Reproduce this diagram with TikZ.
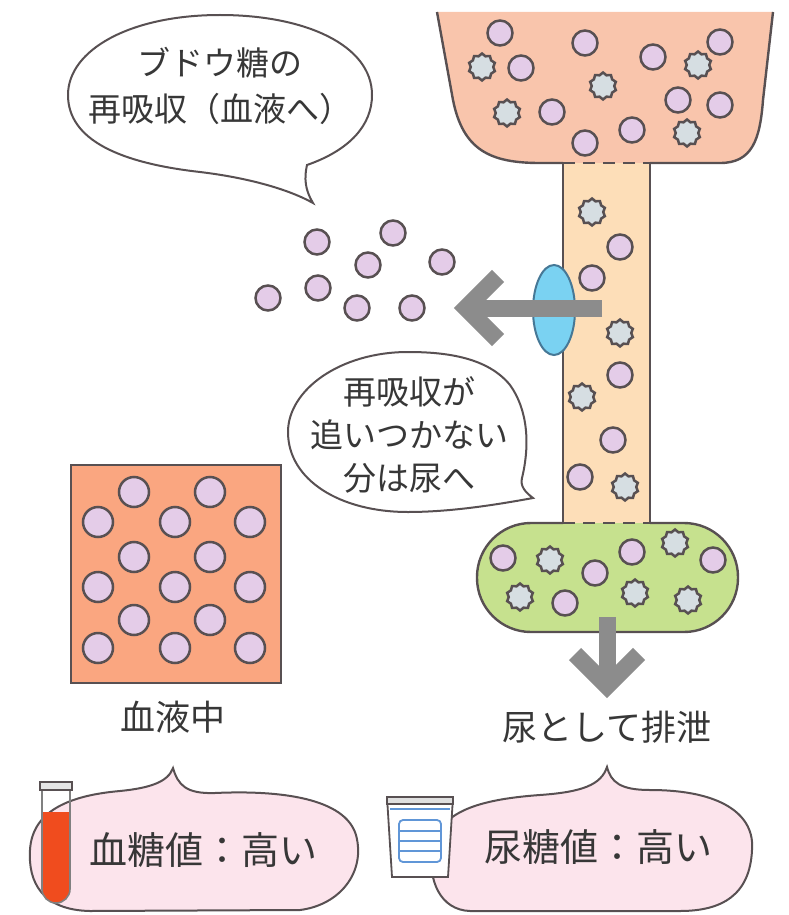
\documentclass[tikz,border=0pt]{standalone}
\usepackage{fontspec}
\setmainfont{Noto Sans CJK JP}
\usetikzlibrary{positioning, shapes.geometric, arrows.meta}
\definecolor{DuctPeach}{RGB}{249,197,172}
\definecolor{TubePeach}{RGB}{253,222,184}
\definecolor{UrineGreen}{RGB}{198,225,142}
\definecolor{BloodCoral}{RGB}{250,166,128}
\definecolor{GlucLilac}{RGB}{228,204,232}
\definecolor{OtherGray}{RGB}{214,222,226}
\definecolor{LineGray}{RGB}{88,80,82}
\definecolor{ArrowGray}{RGB}{140,140,140}
\definecolor{PumpBlue}{RGB}{122,210,242}
\definecolor{PumpEdge}{RGB}{70,120,150}
\definecolor{BubblePink}{RGB}{252,228,236}
\definecolor{TubeRed}{RGB}{240,76,30}
\definecolor{CupBlue}{RGB}{96,150,215}
\definecolor{TextGray}{RGB}{55,55,55}

\begin{document}
\begin{tikzpicture}[x=0.5pt, y=-0.5pt, every node/.style={text=TextGray},
  gluc/.style={circle, draw=LineGray, fill=GlucLilac, line width=1.25pt, minimum size=12.5pt, inner sep=0pt},
  bigdot/.style={gluc, minimum size=15pt},
  other/.style={star, star points=10, star point ratio=1.2, draw=LineGray, fill=OtherGray, line width=1.25pt, minimum size=13.5pt, inner sep=0pt},
  wall/.style={draw=LineGray, line width=1.2pt},
  bubble/.style={draw=LineGray, line width=1pt, fill=white},
  pinkbubble/.style={draw=LineGray, line width=1pt, fill=BubblePink},
  bigarrow/.style={draw=ArrowGray, line width=8.5pt, line join=miter},
  saying/.style={align=center, font=\fontsize{16.5}{23}\selectfont},
  caption/.style={font=\fontsize{17.5}{20}\selectfont},
  readout/.style={font=\fontsize{19}{22}\selectfont}
]
\useasboundingbox (0,0) rectangle (788,915);

% Funnel at the top
\fill[DuctPeach] (437,12) -- (453,100) .. controls (463,150) and (490,163) .. (540,163) -- (720,163) .. controls (752,163) and (760,140) .. (763,100) -- (773,12) -- cycle;
\draw[wall] (437,12) -- (453,100) .. controls (463,150) and (490,163) .. (540,163) -- (563,163);
\draw[wall] (650,163) -- (720,163) .. controls (752,163) and (760,140) .. (763,100) -- (773,12);

% Tube
\fill[TubePeach] (563,163) rectangle (650,523);
\draw[wall] (563,163) -- (563,523);
\draw[wall] (650,163) -- (650,523);
\draw[wall, dash pattern=on 6pt off 4pt] (563,163) -- (650,163);

% Green capsule
\fill[UrineGreen, rounded corners=27pt] (477,523) rectangle (738,632);
\draw[wall, rounded corners=27pt] (563,523) -- (477,523) -- (477,632) -- (738,632) -- (738,523) -- (650,523);
\draw[wall, dash pattern=on 6pt off 4pt] (563,523) -- (650,523);

% Particles
\foreach \x/\y [count=\i] in {500/33, 585/43, 653/57, 720/42, 521/68, 552/112, 678/100, 720/105, 632/130, 585/143}
  \node[gluc] (fg\i) at (\x,\y) {};
\foreach \x/\y [count=\i] in {482/67, 603/86, 698/65, 507/113, 687/133}
  \node[other] (fo\i) at (\x,\y) {};
\foreach \x/\y [count=\i] in {620/247, 592/278, 620/375, 613/440, 580/477}
  \node[gluc] (tg\i) at (\x,\y) {};
\foreach \x/\y [count=\i] in {592/212, 620/333, 582/397, 625/487}
  \node[other] (to\i) at (\x,\y) {};
\foreach \x/\y [count=\i] in {503/558, 595/573, 632/552, 713/560, 565/603}
  \node[gluc] (cg\i) at (\x,\y) {};
\foreach \x/\y [count=\i] in {550/560, 675/543, 520/597, 635/593, 688/600}
  \node[other] (co\i) at (\x,\y) {};
\foreach \x/\y [count=\i] in {317/242, 393/233, 368/265, 442/262, 268/298, 318/288, 357/308, 412/308}
  \node[gluc] (rg\i) at (\x,\y) {};

% Transporter and reabsorption arrow
\node[ellipse, draw=PumpEdge, fill=PumpBlue, line width=1pt, minimum width=21pt, minimum height=45pt, inner sep=0pt] (pump) at (554,310) {};
\coordinate (leftTail) at (602,308);
\coordinate (leftTip) at (466,308);
\draw[bigarrow] (leftTail) -- (leftTip);
\draw[bigarrow] ([shift={(32,-32)}]leftTip) -- (leftTip) -- ([shift={(32,32)}]leftTip);

% Excretion arrow
\coordinate (downTail) at (607,617);
\coordinate (downTip) at (607,686);
\draw[bigarrow] (downTail) -- (downTip);
\draw[bigarrow] ([shift={(-32,-32)}]downTip) -- (downTip) -- ([shift={(32,-32)}]downTip);
\node[caption] (excrete) at (607,727) {尿として排泄};

% Blood box
\node[rectangle, draw=LineGray, fill=BloodCoral, line width=1.2pt, minimum width=105pt, minimum height=109pt] (blood) at (176,574) {};
\foreach \x/\y [count=\i] in {134/492, 210/492, 98/522, 175/522, 250/522, 134/557, 210/557,
    98/587, 175/587, 250/587, 134/620, 210/620, 98/648, 175/648, 250/648}
  \node[bigdot] (bg\i) at (\x,\y) {};
\node[caption] (bloodtext) at (173,717) {血液中};

% Speech bubbles
\draw[bubble] (307,165) .. controls (350,150) and (372,125) .. (372,95)
  .. controls (372,45) and (305,15) .. (220,15)
  .. controls (130,15) and (68,50) .. (68,95)
  .. controls (68,140) and (120,163) .. (200,172)
  .. controls (250,178) and (290,190) .. (313,203)
  .. controls (305,190) and (304,178) .. (307,165) -- cycle;
\node[saying] (reabs) at (220,86) {ブドウ糖の\\再吸収（血液へ）};

\draw[bubble] (522,478) .. controls (530,445) and (528,410) .. (510,385)
  .. controls (488,358) and (448,352) .. (408,352)
  .. controls (340,352) and (288,390) .. (288,432)
  .. controls (288,480) and (340,512) .. (408,512)
  .. controls (450,512) and (495,505) .. (533,498)
  .. controls (525,492) and (520,486) .. (522,478) -- cycle;
\node[saying, font=\fontsize{16.5}{21.5}\selectfont] (leak) at (409,435) {再吸収が\\追いつかない\\分は尿へ};

% Bottom readouts
\draw[pinkbubble] (173,768) .. controls (178,785) and (186,794) .. (215,793)
  .. controls (280,790) and (345,798) .. (356,835)
  .. controls (366,872) and (340,905) .. (300,910)
  -- (90,911)
  .. controls (42,910) and (28,882) .. (30,850)
  .. controls (32,815) and (62,796) .. (120,791)
  .. controls (150,788) and (168,782) .. (173,768) -- cycle;
\node[readout] (bloodsugar) at (203,850) {血糖値：高い};

\draw[pinkbubble] (607,767) .. controls (611,782) and (620,790) .. (650,790)
  .. controls (722,790) and (755,815) .. (752,850)
  .. controls (750,895) and (722,911) .. (680,911)
  -- (470,911)
  .. controls (440,910) and (428,880) .. (432,850)
  .. controls (438,815) and (470,800) .. (540,795)
  .. controls (582,792) and (601,785) .. (607,767) -- cycle;
\node[readout] (urinesugar) at (598,847) {尿糖値：高い};

% Test tube
\fill[TubeRed] (42,812) -- (42,889) arc[start angle=180, end angle=360, radius=7pt] -- (70,812) -- cycle;
\draw[gray, line width=0.8pt] (42,788) -- (42,889) arc[start angle=180, end angle=360, radius=7pt] -- (70,788);
\draw[LineGray, fill=gray!20, line width=0.8pt] (40,782) rectangle (72,790);

% Urine cup
\draw[LineGray, line width=0.9pt, fill=white] (387,797) -- (392,877) -- (448,877) -- (453,797) -- cycle;
\draw[LineGray, line width=0.9pt, fill=gray!25] (387,797) rectangle (453,804);
\draw[CupBlue, line width=0.8pt] (390,809) -- (450,809);
\draw[CupBlue, line width=0.9pt, rounded corners=2pt] (399,820) rectangle (441,862);
\draw[CupBlue, line width=0.7pt] (399,831) -- (441,831) (399,841) -- (441,841) (399,851) -- (441,851);

\end{tikzpicture}
\end{document}
